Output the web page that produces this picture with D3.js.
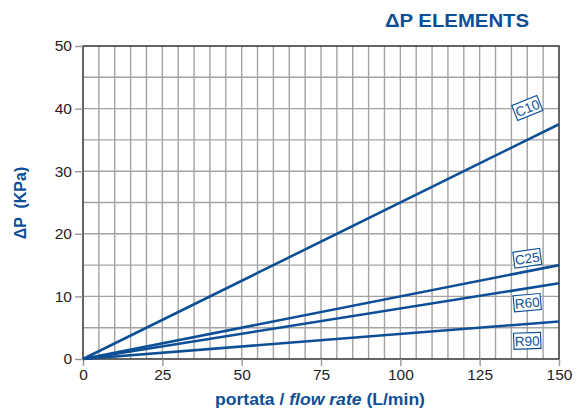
<!DOCTYPE html>
<html>
<head>
<meta charset="utf-8">
<script src="https://cdn.jsdelivr.net/npm/d3@7"></script>
<style>
  body { margin: 0; background: #fff; }
  svg { font-family: "Liberation Sans", Arial, sans-serif; }
</style>
</head>
<body>
<div id="chart"></div>
<script>
'use strict';

// flow rate (L/min) at the two ends of each line
var flowRates = [0, 150];
var seriesNames = ["C10", "C25", "R60", "R90"];
// pressure drop (kPa) at flow 0 and 150
var c10Values = [0, 37.5];
var c25Values = [0, 15];
var r60Values = [0, 12.1];
var r90Values = [0, 6];
var xTicks = [0, 25, 50, 75, 100, 125, 150];
var yTicks = [0, 10, 20, 30, 40, 50];
// label box position and its tilt
var labelX = [140, 140, 140, 140];
var labelY = [40.1, 16.1, 9.0, 2.9];
var labelAngle = [-22, -8, -5, -2];

(function() {
    var blue = "#0d4f96";
    var width = 581, height = 416;
    var margin = { left: 83, right: 22, top: 46, bottom: 57 };

    var svg = d3.select("#chart").append("svg")
        .attr("width", width)
        .attr("height", height);

    var x = d3.scaleLinear().domain([0, 150]).range([margin.left, width - margin.right]);
    var y = d3.scaleLinear().domain([0, 50]).range([height - margin.bottom, margin.top]);

    // grid every 5 units
    var g = svg.append("g");
    g.selectAll(".vgrid")
        .data(d3.range(5, 150, 5))
        .enter().append("line")
        .attr("x1", function(d) { return x(d); })
        .attr("x2", function(d) { return x(d); })
        .attr("y1", y(0)).attr("y2", y(50))
        .attr("stroke", "#a3a3a3").attr("stroke-width", 1.4);
    g.selectAll(".hgrid")
        .data(d3.range(5, 50, 5))
        .enter().append("line")
        .attr("y1", function(d) { return y(d); })
        .attr("y2", function(d) { return y(d); })
        .attr("x1", x(0)).attr("x2", x(150))
        .attr("stroke", "#a3a3a3").attr("stroke-width", 1.4);

    // frame
    svg.append("rect")
        .attr("x", x(0)).attr("y", y(50))
        .attr("width", x(150) - x(0)).attr("height", y(0) - y(50))
        .attr("fill", "none").attr("stroke", "#333").attr("stroke-width", 1.5);

    // axes
    var xAxis = svg.append("g")
        .attr("transform", "translate(0," + y(0) + ")")
        .call(d3.axisBottom(x).tickValues(xTicks).tickSize(7).tickPadding(3));
    var yAxis = svg.append("g")
        .attr("transform", "translate(" + x(0) + ",0)")
        .call(d3.axisLeft(y).tickValues(yTicks).tickSize(8).tickPadding(3));
    [xAxis, yAxis].forEach(function(a) {
        a.select(".domain").remove();
        a.selectAll(".tick line").attr("stroke", "#999").attr("stroke-width", 1.4);
        a.selectAll(".tick text")
            .attr("fill", "#222")
            .style("font-size", "15.5px")
            .style("font-family", "Liberation Sans, Arial, sans-serif");
    });

    // series lines
    var allSeries = [c10Values, c25Values, r60Values, r90Values];
    var line = d3.line()
        .x(function(d, i) { return x(flowRates[i]); })
        .y(function(d) { return y(d); });
    svg.selectAll(".series")
        .data(allSeries)
        .enter().append("path")
        .attr("d", line)
        .attr("fill", "none")
        .attr("stroke", blue)
        .attr("stroke-width", 2.6);

    // boxed labels
    seriesNames.forEach(function(name, i) {
        var lg = svg.append("g")
            .attr("transform", "translate(" + x(labelX[i]) + "," + y(labelY[i]) + ") rotate(" + labelAngle[i] + ")");
        lg.append("rect")
            .attr("x", -13.5).attr("y", -8)
            .attr("width", 27).attr("height", 16)
            .attr("fill", "#fff")
            .attr("stroke", blue).attr("stroke-width", 1.1);
        lg.append("text")
            .attr("text-anchor", "middle")
            .attr("y", 5)
            .attr("fill", blue)
            .style("font-size", "13.5px")
            .text(name);
    });

    // title (wide lettering)
    svg.append("text")
        .attr("transform", "translate(457,27) scale(1.1,1)")
        .attr("text-anchor", "middle")
        .attr("fill", blue)
        .style("font-size", "18.5px")
        .style("font-weight", "bold")
        .text("ΔP ELEMENTS");

    // y axis title
    svg.append("text")
        .attr("transform", "translate(26,203) rotate(-90)")
        .attr("text-anchor", "middle")
        .attr("fill", blue)
        .style("font-size", "16px")
        .style("font-weight", "bold")
        .attr("xml:space", "preserve")
        .text("ΔP  (KPa)");

    // x axis title
    var xt = svg.append("text")
        .attr("transform", "translate(320,405) scale(1.1,1)")
        .attr("text-anchor", "middle")
        .attr("fill", blue)
        .style("font-size", "16px")
        .style("font-weight", "bold");
    xt.append("tspan").text("portata / ");
    xt.append("tspan").style("font-style", "italic").text("flow rate");
    xt.append("tspan").text(" (L/min)");
})();
</script>
</body>
</html>
